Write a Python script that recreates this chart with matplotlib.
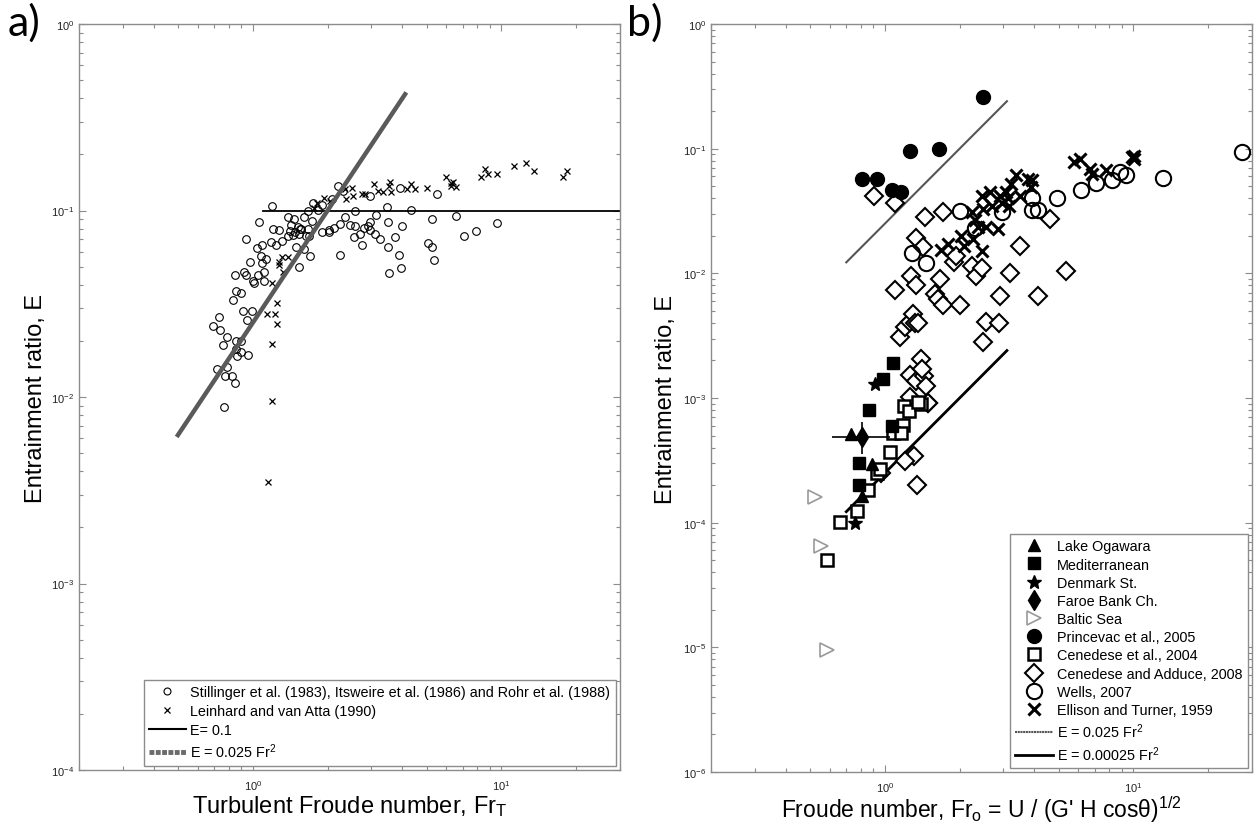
import numpy as np
import matplotlib
matplotlib.use('Agg')
import matplotlib.pyplot as plt
import matplotlib.ticker
from matplotlib.lines import Line2D

plt.rcParams['font.family'] = ['Liberation Sans', 'DejaVu Sans']
plt.rcParams['mathtext.fontset'] = 'custom'
plt.rcParams['mathtext.rm'] = 'Liberation Sans'
plt.rcParams['mathtext.it'] = 'Liberation Sans:italic'
plt.rcParams['mathtext.default'] = 'regular'

# ---- panel a data ----
circ_fr = [1.2, 1.06, 0.935, 1.21, 1.27, 1.04, 1.09, 1.18, 1.24, 1.31, 1.08, 1.13, 0.975, 1.085,
           0.852, 0.918, 0.94, 1.0, 1.045, 1.11, 1.01, 1.105, 0.857, 0.90, 0.836, 0.73, 0.91, 0.99,
           0.95, 0.694, 0.74, 0.785, 0.757, 0.86, 0.895, 0.86, 0.90, 0.868, 0.96, 0.715, 0.79,
           0.775, 0.825, 0.85, 0.767,
           1.39, 1.46, 1.61, 1.43, 1.52, 1.56, 1.41, 1.48, 1.55, 1.38, 1.45, 1.53, 1.64, 1.69,
           1.49, 1.61, 1.70, 1.54, 1.67, 1.73, 1.67, 1.75, 1.83, 1.90, 1.90, 2.02, 2.03, 2.12,
           2.25, 2.36, 2.24, 2.09, 2.21, 2.31, 2.47, 2.58, 2.58, 2.56, 2.71, 2.74, 2.81, 2.92,
           2.95, 2.97, 3.11, 3.26, 3.12, 3.47, 2.97, 3.5, 3.72, 3.49, 3.89, 3.54, 3.95, 4.0,
           4.32, 3.9, 5.06, 5.26, 5.34, 5.26, 5.5, 6.56, 7.09, 7.9, 9.6]
circ_e = [0.106, 0.087, 0.070, 0.080, 0.079, 0.063, 0.065, 0.068, 0.065, 0.069, 0.057, 0.055, 0.053, 0.052,
          0.045, 0.047, 0.045, 0.042, 0.045, 0.047, 0.041, 0.042, 0.037, 0.036, 0.033, 0.027, 0.029, 0.029,
          0.026, 0.024, 0.023, 0.021, 0.019, 0.020, 0.020, 0.018, 0.0175, 0.0165, 0.0167, 0.0142, 0.0145,
          0.013, 0.013, 0.0119, 0.0088,
          0.092, 0.090, 0.092, 0.084, 0.082, 0.080, 0.078, 0.077, 0.080, 0.073, 0.074, 0.075, 0.073, 0.073,
          0.064, 0.062, 0.057, 0.050, 0.080, 0.088, 0.100, 0.110, 0.101, 0.107, 0.077, 0.077, 0.079, 0.081,
          0.085, 0.092, 0.058, 0.115, 0.135, 0.128, 0.084, 0.100, 0.083, 0.072, 0.075, 0.065, 0.081, 0.083,
          0.087, 0.079, 0.075, 0.070, 0.095, 0.104, 0.119, 0.087, 0.072, 0.064, 0.058, 0.046, 0.049, 0.083,
          0.101, 0.132, 0.067, 0.064, 0.054, 0.090, 0.123, 0.094, 0.073, 0.078, 0.086]

cross_fr = [1.2, 1.25, 1.14, 1.23, 1.25, 1.2, 1.2, 1.15, 1.27, 1.31, 1.28, 1.32, 1.38, 1.76,
            1.82, 1.94, 2.05, 2.38, 2.36, 2.51, 2.52, 2.76, 2.84, 3.06, 3.18, 3.35, 3.52, 3.58,
            3.61, 4.16, 4.35, 4.48, 5.0, 6.0, 6.3, 6.4, 6.25, 6.6, 8.3, 8.6, 8.8, 9.6, 11.2,
            12.6, 13.5, 17.7, 18.4]
cross_e = [0.041, 0.032, 0.028, 0.028, 0.0245, 0.0193, 0.0095, 0.0035, 0.053, 0.056, 0.051, 0.047,
           0.056, 0.103, 0.110, 0.117, 0.113, 0.115, 0.130, 0.132, 0.120, 0.122, 0.123, 0.138, 0.128,
           0.126, 0.135, 0.143, 0.126, 0.131, 0.139, 0.131, 0.132, 0.151, 0.140, 0.142, 0.135, 0.133,
           0.152, 0.167, 0.157, 0.157, 0.174, 0.180, 0.162, 0.151, 0.162]

# fit lines, panel a
const_fr = [1.1, 30.0]
const_e = 0.1
sq_fr_a = [0.5, 4.1]
sq_coef_a = 0.025

# ---- panel b data ----
ogawara_fr = [0.73, 0.887, 0.81]
ogawara_e = [0.00051, 0.000296, 0.000165]
med_fr = [1.077, 0.985, 0.864, 1.07, 0.787, 0.787]
med_e = [0.0019, 0.00141, 0.0008, 0.0006, 0.0003, 0.0002]
denmark_fr = [0.91, 0.758]
denmark_e = [0.00129, 0.0001]
faroe_fr = [0.81]
faroe_e = [0.000485]
faroe_xerr = [[0.81 - 0.611], [1.047 - 0.81]]
faroe_yerr = [[0.000485 - 0.000356], [0.00064 - 0.000485]]
baltic_fr = [0.523, 0.553, 0.585]
baltic_e = [0.00016, 0.0000656, 0.0000096]
princevac_fr = [0.81, 0.932, 1.07, 1.16, 1.26, 1.65, 2.48]
princevac_e = [0.0573, 0.0573, 0.047, 0.045, 0.096, 0.099, 0.26]
cen04_fr = [1.19, 1.25, 1.40, 1.36, 1.18, 1.08, 1.16, 1.05, 0.93, 0.955, 0.86, 0.77, 0.66, 0.583]
cen04_e = [0.00086, 0.00079, 0.0009, 0.00093, 0.00061, 0.00052, 0.00052, 0.00037, 0.00025,
           0.00027, 0.000184, 0.000125, 0.000102, 0.0000498]
cen08_fr = [0.905, 1.10, 1.45, 1.72, 1.34, 1.43, 1.28, 1.33, 1.10, 1.67, 1.59, 1.63, 1.71, 2.0,
            1.9, 1.93, 2.24, 2.32, 2.46, 3.18, 3.5, 4.61, 5.35, 4.13, 2.9, 2.55, 2.87, 2.48,
            1.15, 1.21, 1.26, 1.30, 1.32, 1.36, 1.26, 1.40, 1.34, 1.44, 1.46, 1.26, 1.49, 1.41,
            1.49, 1.31, 1.21, 1.345, 0.97]
cen08_e = [0.042, 0.0365, 0.0282, 0.031, 0.0191, 0.0162, 0.0096, 0.0080, 0.0073, 0.0090, 0.0068,
           0.0062, 0.0056, 0.0056, 0.0123, 0.0139, 0.0115, 0.0096, 0.0110, 0.0101, 0.0165, 0.0274,
           0.0105, 0.0066, 0.0066, 0.0041, 0.0040, 0.0028, 0.0031, 0.0037, 0.0041, 0.0047, 0.0040,
           0.0040, 0.00152, 0.00205, 0.00137, 0.0015, 0.00125, 0.00101, 0.00092, 0.0017,
           0.000914, 0.000345, 0.000311, 0.000202, 0.00025]
wells_fr = [1.29, 1.47, 2.0, 2.3, 2.96, 3.9, 3.9, 4.13, 4.93, 6.16, 7.1, 8.2, 8.8, 9.3, 13.1, 27.3]
wells_e = [0.0146, 0.0121, 0.0315, 0.0230, 0.031, 0.040, 0.0325, 0.032, 0.0404, 0.047, 0.0533,
           0.0556, 0.065, 0.061, 0.0585, 0.094]
ellison_fr = [1.69, 1.79, 2.03, 2.08, 2.27, 2.46, 2.24, 2.31, 2.37, 2.46, 2.48, 2.55, 2.65, 2.7,
              2.85, 2.9, 2.96, 3.07, 3.12, 3.16, 3.22, 3.37, 3.5, 3.76, 3.9, 3.88, 5.76, 6.09,
              6.69, 6.8, 7.75, 10.1, 10.1, 9.9]
ellison_e = [0.0155, 0.0172, 0.020, 0.0167, 0.0189, 0.015, 0.031, 0.027, 0.0235, 0.042, 0.033,
             0.0237, 0.0448, 0.035, 0.0227, 0.042, 0.037, 0.0448, 0.040, 0.035, 0.052, 0.061,
             0.042, 0.0573, 0.056, 0.049, 0.078, 0.083, 0.069, 0.063, 0.067, 0.088, 0.083, 0.086]

sq_fr_b = [0.7, 3.1]
sq_coef_b1 = 0.025
sq_coef_b2 = 0.00025

frame_col = '#8c8c8c'


def style_axes(ax, ylim):
    ax.set_xscale('log')
    ax.set_yscale('log')
    ax.set_xlim(0.2, 30)
    ax.set_ylim(*ylim)
    ax.xaxis.set_minor_formatter(matplotlib.ticker.NullFormatter())
    ax.yaxis.set_minor_formatter(matplotlib.ticker.NullFormatter())
    for s in ax.spines.values():
        s.set_color(frame_col)
        s.set_linewidth(1.0)
    ax.tick_params(which='both', direction='in', top=True, right=True, color=frame_col,
                   labelsize=8, labelcolor='#222222')
    ax.tick_params(which='major', length=5, width=0.8)
    ax.tick_params(which='minor', length=3, width=0.8)
    ax.tick_params(axis='x', pad=6)


fig = plt.figure(figsize=(12.56, 8.28), dpi=100)

# ---------------- panel a ----------------
ax1 = fig.add_axes([0.0629, 0.0688, 0.4307, 0.9010])
fr = np.array(sq_fr_a)
ax1.plot(circ_fr, circ_e, 'o', ms=5.5, mfc='none', mec='black', mew=0.8)
ax1.plot(cross_fr, cross_e, 'x', ms=4, color='black', mew=0.9)
ax1.plot(const_fr, [const_e, const_e], '-', color='black', lw=1.3)
ax1.plot(fr, sq_coef_a * fr ** 2, '-', color='#5a5a5a', lw=3.2)
style_axes(ax1, (1e-4, 1))
ax1.set_xlabel(r'Turbulent Froude number, Fr$_{\mathrm{T}}$', fontsize=17, labelpad=1)
ax1.set_ylabel('Entrainment ratio, E', fontsize=17, labelpad=3)

h_a = [Line2D([], [], ls='none', marker='o', ms=5, mfc='none', mec='black', mew=0.8),
       Line2D([], [], ls='none', marker='x', ms=4, color='black', mew=0.9),
       Line2D([], [], color='black', lw=1.5),
       Line2D([], [], color='#6a6a6a', lw=3.5, ls=(0, (1, 0.3)))]
l_a = ['Stillinger et al. (1983), Itsweire et al. (1986) and Rohr et al. (1988)',
       'Leinhard and van Atta (1990)', 'E= 0.1', r'E = 0.025 Fr$^2$']
leg = ax1.legend(h_a, l_a, loc='lower right', fontsize=10.4, handlelength=2.5, handletextpad=0.3,
                 fancybox=False, edgecolor=frame_col, framealpha=1, borderaxespad=0.3,
                 labelspacing=0.32, borderpad=0.4)
leg.get_frame().set_linewidth(1.0)
fig.text(0.006, 0.972, 'a)', fontsize=31, family=['Lato', 'DejaVu Sans'], va='center')

# ---------------- panel b ----------------
ax2 = fig.add_axes([0.5661, 0.0664, 0.4307, 0.9034])
frb = np.array(sq_fr_b)
ax2.plot(frb, sq_coef_b1 * frb ** 2, '-', color='#555555', lw=1.5)
ax2.plot(frb, sq_coef_b2 * frb ** 2, '-', color='black', lw=2.0)
mk = dict(ls='none')
ax2.plot(cen08_fr, cen08_e, marker='D', ms=9, mfc='white', mec='black', mew=1.5, **mk)
ax2.plot(cen04_fr, cen04_e, marker='s', ms=8, mfc='white', mec='black', mew=1.8, **mk)
ax2.plot(wells_fr, wells_e, marker='o', ms=11, mfc='none', mec='black', mew=1.5, **mk)
ax2.plot(ellison_fr, ellison_e, marker='x', ms=9, color='black', mew=2.2, **mk)
ax2.plot(princevac_fr, princevac_e, marker='o', ms=10, color='black', **mk)
ax2.plot(med_fr, med_e, marker='s', ms=8, color='black', **mk)
ax2.plot(denmark_fr, denmark_e, marker='*', ms=10, color='black', **mk)
ax2.errorbar(faroe_fr, faroe_e, xerr=faroe_xerr, yerr=faroe_yerr, fmt='d', ms=10,
             color='black', ecolor='black', elinewidth=1.2, capsize=0)
ax2.plot(ogawara_fr, ogawara_e, marker='^', ms=9, color='black', **mk)
ax2.plot(baltic_fr, baltic_e, marker='>', ms=10, mfc='white', mec='#999999', mew=1.2, **mk)
style_axes(ax2, (1e-6, 1))
ax2.set_xlabel(r"Froude number, Fr$_{\mathrm{o}}$ = U / (G' H cos$\theta$)$^{1/2}$", fontsize=16.5,
               labelpad=-0.5)
ax2.set_ylabel('Entrainment ratio, E', fontsize=17, labelpad=4)

h_b = [Line2D([], [], ls='none', marker='^', ms=9, color='black'),
       Line2D([], [], ls='none', marker='s', ms=8, color='black'),
       Line2D([], [], ls='none', marker='*', ms=10, color='black'),
       Line2D([], [], ls='none', marker='d', ms=10, color='black'),
       Line2D([], [], ls='none', marker='>', ms=10, mfc='white', mec='#999999', mew=1.2),
       Line2D([], [], ls='none', marker='o', ms=10, color='black'),
       Line2D([], [], ls='none', marker='s', ms=8, mfc='white', mec='black', mew=1.8),
       Line2D([], [], ls='none', marker='D', ms=9, mfc='white', mec='black', mew=1.5),
       Line2D([], [], ls='none', marker='o', ms=11, mfc='none', mec='black', mew=1.5),
       Line2D([], [], ls='none', marker='x', ms=9, color='black', mew=2.2),
       Line2D([], [], color='#555555', lw=1.5, ls=(0, (1, 0.3))),
       Line2D([], [], color='black', lw=2.0)]
l_b = ['Lake Ogawara', 'Mediterranean', 'Denmark St.', 'Faroe Bank Ch.', 'Baltic Sea',
       'Princevac et al., 2005', 'Cenedese et al., 2004', 'Cenedese and Adduce, 2008',
       'Wells, 2007', 'Ellison and Turner, 1959', r'E = 0.025 Fr$^2$', r'E = 0.00025 Fr$^2$']
leg2 = ax2.legend(h_b, l_b, loc='lower right', fontsize=10.4, handlelength=2.6, handletextpad=0.3,
                  fancybox=False, edgecolor=frame_col, framealpha=1, borderaxespad=0.3,
                  labelspacing=0.29, borderpad=0.35)
leg2.get_frame().set_linewidth(1.0)
fig.text(0.499, 0.972, 'b)', fontsize=31, family=['Lato', 'DejaVu Sans'], va='center')

fig.savefig('out.png', dpi=100)
